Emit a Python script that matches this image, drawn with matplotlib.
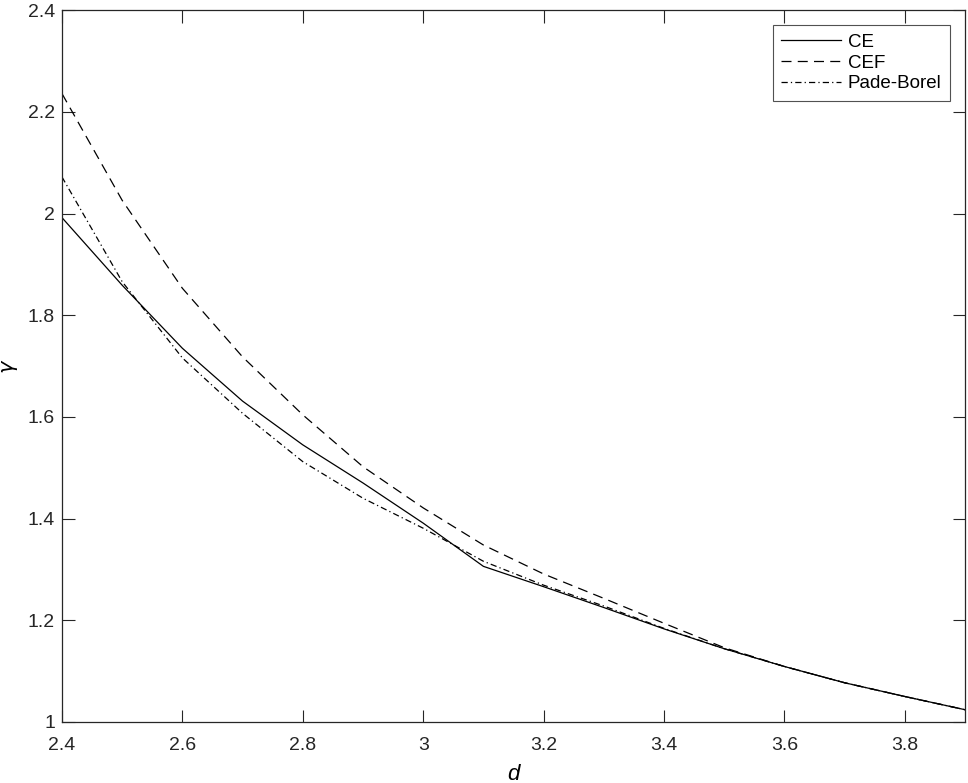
import matplotlib
matplotlib.use("Agg")
import matplotlib.pyplot as plt

plt.rcParams['font.family'] = ['Liberation Sans', 'DejaVu Sans']

# datos
d = [2.4, 2.5, 2.6, 2.7, 2.8, 2.9, 3.0, 3.1, 3.2, 3.3, 3.4, 3.5, 3.6, 3.7, 3.8, 3.9]
g_ce = [1.992, 1.859, 1.735, 1.631, 1.545, 1.470, 1.391, 1.306, 1.266, 1.225, 1.183, 1.144,
        1.109, 1.077, 1.050, 1.024]
g_cef = [2.236, 2.026, 1.853, 1.718, 1.604, 1.502, 1.421, 1.348, 1.291, 1.243, 1.194, 1.146,
         1.109, 1.077, 1.050, 1.024]
g_pb = [2.072, 1.866, 1.716, 1.607, 1.512, 1.440, 1.381, 1.316, 1.269, 1.228, 1.184, 1.144,
        1.109, 1.077, 1.050, 1.024]

xticks = [2.4, 2.6, 2.8, 3.0, 3.2, 3.4, 3.6, 3.8]
xtick_labels = ["2.4", "2.6", "2.8", "3", "3.2", "3.4", "3.6", "3.8"]
yticks = [1.0, 1.2, 1.4, 1.6, 1.8, 2.0, 2.2, 2.4]
ytick_labels = ["1", "1.2", "1.4", "1.6", "1.8", "2", "2.2", "2.4"]

fig = plt.figure(figsize=(9.68, 7.83), dpi=100)
ax = fig.add_axes([0.064, 0.078, 0.933, 0.909])

ax.plot(d, g_ce, color="black", linestyle="-", linewidth=0.9, label="CE")
ax.plot(d, g_cef, color="black", linestyle=(0, (8, 5)), linewidth=0.9, label="CEF")
ax.plot(d, g_pb, color="black", linestyle=(0, (5, 2.5, 1, 2.5)), linewidth=0.9, label="Pade-Borel")

ax.set_xlim(2.4, 3.9)
ax.set_ylim(1, 2.4)
ax.set_xticks(xticks)
ax.set_xticklabels(xtick_labels)
ax.set_yticks(yticks)
ax.set_yticklabels(ytick_labels)
ax.tick_params(direction="in", top=True, right=True, length=9, width=0.8, labelsize=14,
               colors="#262626")
ax.tick_params(axis="x", pad=11)
ax.tick_params(axis="y", pad=5)
for s in ax.spines.values():
    s.set_linewidth(0.9)
    s.set_color("#262626")

ax.set_xlabel("d", fontsize=16, style="italic", labelpad=7)
ax.set_ylabel(r"$\gamma$", fontsize=15)
ax.yaxis.set_label_coords(-0.047, 0.5)

leg = ax.legend(loc="upper right", fontsize=13.5, frameon=True, fancybox=False,
                edgecolor="#262626", handlelength=3.2, handletextpad=0.35,
                borderpad=0.45, borderaxespad=0.8, labelspacing=0.2)
leg.get_frame().set_linewidth(0.8)

fig.savefig("out.png", dpi=100)
